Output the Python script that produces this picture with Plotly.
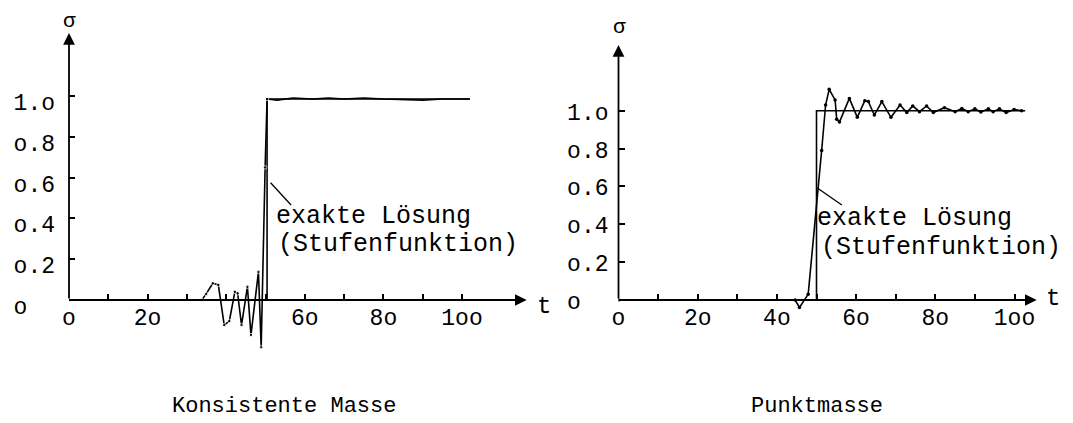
import plotly.graph_objects as go

REF_W, REF_H = 1073, 423
OFF = 8  # page body margin of the rendered html
W, H = REF_W - OFF, REF_H - OFF
FONT = "Liberation Mono"

# ---------------- data ----------------
# Konsistente Masse (left)
left_exact_t = [0, 50.4, 50.4, 102]
left_exact_s = [0, 0, 0.985, 0.985]
left_num_t = [0, 33.8, 34.9, 36.6, 38.0, 39.5, 40.8, 42.2, 42.9, 43.9, 45.4, 46.3,
              48.2, 48.9, 49.9, 50.4, 53, 57, 62, 66, 70, 75, 80, 85, 90, 95, 100, 102]
left_num_s = [0, 0, 0.03, 0.082, 0.074, -0.123, -0.103, 0.04, 0.033, -0.123, 0.065, -0.172,
              0.138, -0.232, 0.65, 0.985, 0.98, 0.99, 0.985, 0.99, 0.985, 0.99, 0.985, 0.982,
              0.98, 0.985, 0.985, 0.985]

# Punktmasse (right)
right_exact_t = [0, 50, 50, 102.7]
right_exact_s = [0, 0, 1.0, 1.0]
right_num_t = [0, 44.6, 45.7, 47.9, 51.3, 52.3, 53.2, 54.7, 55.1, 55.8, 58.3, 60.3, 62.2,
               63.1, 64.6, 66.5, 68.8, 71.1, 72.8, 74.3, 76.0, 77.8, 79.5, 82.3, 85.0, 86.7,
               88.3, 90.0, 91.5, 93.4, 94.6, 96.2, 97.9, 99.9, 101.8]
right_num_s = [0, 0, -0.039, 0.03, 0.79, 1.03, 1.113, 1.057, 0.955, 0.94, 1.065, 0.965, 1.053,
               1.048, 0.977, 1.048, 0.965, 1.03, 0.99, 1.025, 0.995, 1.025, 0.99, 1.016, 0.995,
               1.012, 0.995, 1.01, 0.993, 1.01, 0.995, 1.01, 0.99, 1.006, 1.0]

x_tickvals = [0, 10, 20, 30, 40, 50, 60, 70, 80, 90, 100]
left_x_ticktext = ["o", "", "2o", "", "", "", "6o", "", "8o", "", "1oo"]
right_x_ticktext = ["o", "", "2o", "", "4o", "", "6o", "", "8o", "", "1oo"]
y_tickvals = [0, 0.2, 0.4, 0.6, 0.8, 1.0]
y_ticktext = ["o\u00a0\u00a0", "o.2", "o.4", "o.6", "o.8", "1.o"]

captions = ["Konsistente Masse", "Punktmasse"]
note_lines = ["exakte Lösung", "(Stufenfunktion)"]
axis_names = ["σ", "t"]

# ---------------- layout geometry (reference pixels) ----------------
panels = {
    "left": dict(x0=69, xtip=526.7, ppx=3.93, y0=300, ytop=33, ybot=360, ppy=204),
    "right": dict(x0=618.5, xtip=1036.7, ppx=3.96, y0=300, ytop=45, ybot=330, ppy=189.3),
}


def fx(x):
    return (x - OFF) / W


def fy(y):
    return (H - (y - OFF)) / H


def axes_for(p):
    xr = [0, (p["xtip"] - p["x0"]) / p["ppx"]]
    xd = [fx(p["x0"]), fx(p["xtip"])]
    yr = [-(p["ybot"] - p["y0"]) / p["ppy"], (p["y0"] - p["ytop"]) / p["ppy"]]
    yd = [fy(p["ybot"]), fy(p["ytop"])]
    return xr, xd, yr, yd


def px(x, y):
    return dict(x=fx(x), y=fy(y), xref="paper", yref="paper")


fig = go.Figure()
line_style = dict(color="black", width=1.6)
left_sizes = [3.5 if t <= 50.4 else 0 for t in left_num_t]
fig.add_trace(go.Scatter(x=left_exact_t, y=left_exact_s, mode="lines", line=line_style,
                         xaxis="x", yaxis="y", showlegend=False))
fig.add_trace(go.Scatter(x=left_num_t, y=left_num_s, mode="lines+markers", line=line_style,
                         marker=dict(size=left_sizes, color="black"), xaxis="x", yaxis="y",
                         showlegend=False))
fig.add_trace(go.Scatter(x=right_exact_t, y=right_exact_s, mode="lines", line=line_style,
                         xaxis="x2", yaxis="y2", showlegend=False))
fig.add_trace(go.Scatter(x=right_num_t, y=right_num_s, mode="lines+markers", line=line_style,
                         marker=dict(size=3.5, color="black"), xaxis="x2", yaxis="y2",
                         showlegend=False))

tickfont = dict(family=FONT, size=23, color="black")
annotations = []
shapes = []
layout_axes = {}
for i, (name, xtt) in enumerate([("left", left_x_ticktext), ("right", right_x_ticktext)]):
    p = panels[name]
    xr, xd, yr, yd = axes_for(p)
    xa = "xaxis" if i == 0 else "xaxis2"
    ya = "yaxis" if i == 0 else "yaxis2"
    xref = "x" if i == 0 else "x2"
    yref = "y" if i == 0 else "y2"
    layout_axes[xa] = dict(
        domain=xd, range=xr, anchor="free", position=fy(p["y0"]), automargin=False,
        showline=False, showgrid=False, zeroline=False,
        ticks="inside", ticklen=6, tickwidth=1.5, tickcolor="black",
        tickvals=x_tickvals, ticktext=xtt, tickfont=tickfont, ticklabelstandoff=1,
    )
    layout_axes[ya] = dict(
        domain=yd, range=yr, anchor=xref, automargin=False,
        showline=False, showgrid=False, zeroline=False,
        ticks="inside", ticklen=6, tickwidth=1.5, tickcolor="black",
        tickvals=y_tickvals, ticktext=y_ticktext, tickfont=tickfont,
        ticklabelstandoff=13 if i == 0 else 9, ticklabelshift=6 if i == 0 else 1,
    )
    # axis lines with arrow heads
    annotations.append(dict(x=xr[1], y=0, ax=0, ay=0, xref=xref, yref=yref, axref=xref,
                            ayref=yref, text="", showarrow=True, arrowhead=2, arrowsize=1.3,
                            arrowwidth=1.8, arrowcolor="black", standoff=0))
    annotations.append(dict(x=0, y=yr[1], ax=0, ay=0, xref=xref, yref=yref, axref=xref,
                            ayref=yref, text="", showarrow=True, arrowhead=2, arrowsize=1.3,
                            arrowwidth=1.8, arrowcolor="black", standoff=0))

big = dict(family=FONT, size=24, color="black")
sig = dict(family=FONT, size=21, color="black")
ctr = dict(showarrow=False, xanchor="center", yanchor="middle")
# axis names
annotations += [
    dict(text=axis_names[0], font=sig, borderpad=0, **ctr, **px(69.5, 21.5)),
    dict(text=axis_names[1], font=big, **ctr, **px(543.5, 306)),
    dict(text=axis_names[0], font=sig, borderpad=0, **ctr, **px(619.5, 27.5)),
    dict(text=axis_names[1], font=big, **ctr, **px(1052.5, 298)),
]
# notes
note_font = dict(family=FONT, size=25, color="black")
annotations += [
    dict(text=note_lines[0], x=52.2, y=0.408, xref="x", yref="y", xanchor="left",
         yanchor="middle", showarrow=False, font=note_font),
    dict(text=note_lines[1], x=52.6, y=0.27, xref="x", yref="y", xanchor="left",
         yanchor="middle", showarrow=False, font=note_font),
    dict(text=note_lines[0], x=49.6, y=0.433, xref="x2", yref="y2", xanchor="left",
         yanchor="middle", showarrow=False, font=note_font),
    dict(text=note_lines[1], x=50.6, y=0.28, xref="x2", yref="y2", xanchor="left",
         yanchor="middle", showarrow=False, font=note_font),
]
shapes += [
    dict(type="line", x0=51.3, y0=0.575, x1=56.5, y1=0.466, xref="x", yref="y",
         line=dict(color="black", width=1.3)),
    dict(type="line", x0=50.3, y0=0.59, x1=56.4, y1=0.502, xref="x2", yref="y2",
         line=dict(color="black", width=1.3)),
]
# captions
cap_font = dict(family=FONT, size=22, color="black")
annotations += [
    dict(text=captions[0], font=cap_font, **ctr, **px(284, 406)),
    dict(text=captions[1], font=cap_font, **ctr, **px(817, 406)),
]

fig.update_layout(
    width=W, height=H, margin=dict(l=0, r=0, t=0, b=0, autoexpand=False),
    paper_bgcolor="white", plot_bgcolor="white", showlegend=False,
    annotations=annotations, shapes=shapes, **layout_axes,
)
fig.write_html("out.html")
